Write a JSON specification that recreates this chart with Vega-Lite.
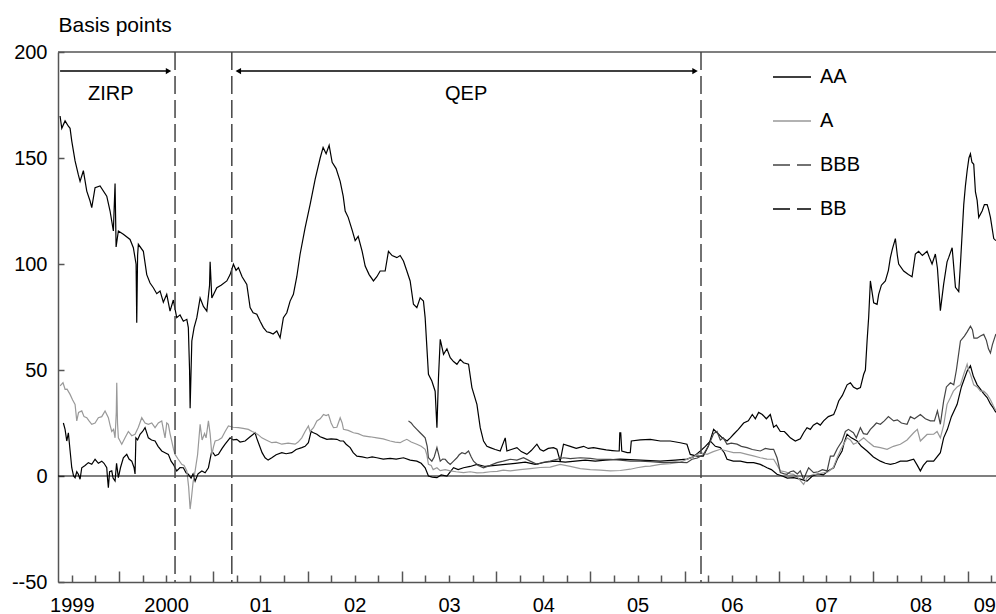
{
"$schema": "https://vega.github.io/schema/vega-lite/v6.json",
"width": 938, "height": 530,
"autosize": "none",
"padding": {"left": 58, "top": 52, "right": 0, "bottom": 32},
"config": {"font": "Liberation Sans", "view": {"stroke": null}},
"datasets": {
"d": [
{"s":"BB","t":1999.376,"v":169.8},{"s":"BB","t":1999.394,"v":164},{"s":"BB","t":1999.429,"v":167.5},{"s":"BB","t":1999.464,"v":165},{"s":"BB","t":1999.482,"v":164},{"s":"BB","t":1999.5,"v":158},{"s":"BB","t":1999.535,"v":148.6},{"s":"BB","t":1999.57,"v":142},{"s":"BB","t":1999.588,"v":139},{"s":"BB","t":1999.623,"v":144},{"s":"BB","t":1999.659,"v":134.4},{"s":"BB","t":1999.694,"v":129.7},{"s":"BB","t":1999.712,"v":126.6},{"s":"BB","t":1999.747,"v":136},{"s":"BB","t":1999.8,"v":136.8},{"s":"BB","t":1999.871,"v":132},{"s":"BB","t":1999.906,"v":125},{"s":"BB","t":1999.941,"v":115.6},{"s":"BB","t":1999.959,"v":138},{"s":"BB","t":1999.97,"v":108},{"s":"BB","t":1999.994,"v":115.6},{"s":"BB","t":2000.047,"v":114},{"s":"BB","t":2000.118,"v":111.6},{"s":"BB","t":2000.153,"v":107.7},{"s":"BB","t":2000.182,"v":99.9},{"s":"BB","t":2000.189,"v":72.3},{"s":"BB","t":2000.198,"v":104},{"s":"BB","t":2000.206,"v":109.3},{"s":"BB","t":2000.259,"v":106},{"s":"BB","t":2000.295,"v":95},{"s":"BB","t":2000.33,"v":91},{"s":"BB","t":2000.365,"v":88.8},{"s":"BB","t":2000.401,"v":86},{"s":"BB","t":2000.436,"v":87.3},{"s":"BB","t":2000.471,"v":82},{"s":"BB","t":2000.507,"v":85.7},{"s":"BB","t":2000.542,"v":77.8},{"s":"BB","t":2000.577,"v":83},{"s":"BB","t":2000.613,"v":74.7},{"s":"BB","t":2000.648,"v":76},{"s":"BB","t":2000.683,"v":73},{"s":"BB","t":2000.72,"v":73.9},{"s":"BB","t":2000.736,"v":70},{"s":"BB","t":2000.749,"v":50},{"s":"BB","t":2000.755,"v":32},{"s":"BB","t":2000.773,"v":63.7},{"s":"BB","t":2000.797,"v":70},{"s":"BB","t":2000.826,"v":74.7},{"s":"BB","t":2000.861,"v":84},{"s":"BB","t":2000.896,"v":80},{"s":"BB","t":2000.932,"v":77.8},{"s":"BB","t":2000.961,"v":90},{"s":"BB","t":2000.967,"v":101},{"s":"BB","t":2000.985,"v":84},{"s":"BB","t":2001.038,"v":88.8},{"s":"BB","t":2001.083,"v":90},{"s":"BB","t":2001.144,"v":92},{"s":"BB","t":2001.179,"v":95},{"s":"BB","t":2001.214,"v":99.9},{"s":"BB","t":2001.242,"v":97},{"s":"BB","t":2001.267,"v":98.3},{"s":"BB","t":2001.306,"v":94},{"s":"BB","t":2001.356,"v":90.4},{"s":"BB","t":2001.391,"v":79.4},{"s":"BB","t":2001.423,"v":77},{"s":"BB","t":2001.462,"v":76.3},{"s":"BB","t":2001.497,"v":73},{"s":"BB","t":2001.532,"v":70},{"s":"BB","t":2001.568,"v":68},{"s":"BB","t":2001.603,"v":67.6},{"s":"BB","t":2001.635,"v":67},{"s":"BB","t":2001.674,"v":68.4},{"s":"BB","t":2001.709,"v":65.2},{"s":"BB","t":2001.744,"v":74.7},{"s":"BB","t":2001.78,"v":77},{"s":"BB","t":2001.815,"v":82.5},{"s":"BB","t":2001.85,"v":85.7},{"s":"BB","t":2001.886,"v":94},{"s":"BB","t":2001.921,"v":104.6},{"s":"BB","t":2001.974,"v":117},{"s":"BB","t":2002.027,"v":128},{"s":"BB","t":2002.081,"v":140},{"s":"BB","t":2002.134,"v":150},{"s":"BB","t":2002.165,"v":155},{"s":"BB","t":2002.197,"v":152},{"s":"BB","t":2002.229,"v":156},{"s":"BB","t":2002.261,"v":148},{"s":"BB","t":2002.303,"v":145},{"s":"BB","t":2002.346,"v":139},{"s":"BB","t":2002.378,"v":132},{"s":"BB","t":2002.399,"v":125},{"s":"BB","t":2002.431,"v":122},{"s":"BB","t":2002.473,"v":116},{"s":"BB","t":2002.505,"v":111},{"s":"BB","t":2002.537,"v":113},{"s":"BB","t":2002.579,"v":106},{"s":"BB","t":2002.611,"v":99},{"s":"BB","t":2002.653,"v":95},{"s":"BB","t":2002.699,"v":92},{"s":"BB","t":2002.735,"v":94},{"s":"BB","t":2002.77,"v":96.7},{"s":"BB","t":2002.823,"v":96.7},{"s":"BB","t":2002.858,"v":106},{"s":"BB","t":2002.897,"v":104},{"s":"BB","t":2002.947,"v":103},{"s":"BB","t":2002.982,"v":104},{"s":"BB","t":2003.017,"v":101.4},{"s":"BB","t":2003.053,"v":96.7},{"s":"BB","t":2003.088,"v":92},{"s":"BB","t":2003.123,"v":81},{"s":"BB","t":2003.159,"v":79.4},{"s":"BB","t":2003.194,"v":84},{"s":"BB","t":2003.229,"v":82.5},{"s":"BB","t":2003.247,"v":74.7},{"s":"BB","t":2003.282,"v":48},{"s":"BB","t":2003.318,"v":44.8},{"s":"BB","t":2003.353,"v":40},{"s":"BB","t":2003.372,"v":22.8},{"s":"BB","t":2003.388,"v":46},{"s":"BB","t":2003.407,"v":64.5},{"s":"BB","t":2003.442,"v":57.4},{"s":"BB","t":2003.478,"v":60},{"s":"BB","t":2003.513,"v":55.8},{"s":"BB","t":2003.548,"v":54},{"s":"BB","t":2003.584,"v":52.7},{"s":"BB","t":2003.619,"v":55},{"s":"BB","t":2003.654,"v":53.4},{"s":"BB","t":2003.707,"v":52.7},{"s":"BB","t":2003.743,"v":41.7},{"s":"BB","t":2003.796,"v":33.8},{"s":"BB","t":2003.831,"v":22.8},{"s":"BB","t":2003.866,"v":16.5},{"s":"BB","t":2003.902,"v":14},{"s":"BB","t":2003.937,"v":13.4},{"s":"BB","t":2003.99,"v":12.5},{"s":"BB","t":2004.043,"v":11.8},{"s":"BB","t":2004.096,"v":18},{"s":"BB","t":2004.114,"v":11.8},{"s":"BB","t":2004.16,"v":12.5},{"s":"BB","t":2004.22,"v":13.4},{"s":"BB","t":2004.266,"v":11.5},{"s":"BB","t":2004.326,"v":10.2},{"s":"BB","t":2004.372,"v":12},{"s":"BB","t":2004.432,"v":15},{"s":"BB","t":2004.467,"v":12.5},{"s":"BB","t":2004.502,"v":11.8},{"s":"BB","t":2004.552,"v":13},{"s":"BB","t":2004.608,"v":13.4},{"s":"BB","t":2004.644,"v":12.6},{"s":"BB","t":2004.679,"v":7},{"s":"BB","t":2004.714,"v":15},{"s":"BB","t":2004.786,"v":14},{"s":"BB","t":2004.849,"v":13},{"s":"BB","t":2004.927,"v":14},{"s":"BB","t":2004.977,"v":13},{"s":"BB","t":2005.033,"v":13.4},{"s":"BB","t":2005.104,"v":12.8},{"s":"BB","t":2005.167,"v":12.3},{"s":"BB","t":2005.231,"v":12},{"s":"BB","t":2005.281,"v":11.8},{"s":"BB","t":2005.305,"v":11.8},{"s":"BB","t":2005.311,"v":20.4},{"s":"BB","t":2005.321,"v":20.4},{"s":"BB","t":2005.332,"v":11.8},{"s":"BB","t":2005.39,"v":11},{"s":"BB","t":2005.422,"v":11},{"s":"BB","t":2005.433,"v":16.5},{"s":"BB","t":2005.528,"v":17},{"s":"BB","t":2005.634,"v":17.3},{"s":"BB","t":2005.74,"v":16.5},{"s":"BB","t":2005.846,"v":16.5},{"s":"BB","t":2005.952,"v":15.7},{"s":"BB","t":2006.023,"v":15},{"s":"BB","t":2006.058,"v":10.2},{"s":"BB","t":2006.13,"v":9.4},{"s":"BB","t":2006.196,"v":9.4},{"s":"BB","t":2006.249,"v":14},{"s":"BB","t":2006.306,"v":22},{"s":"BB","t":2006.359,"v":19.7},{"s":"BB","t":2006.398,"v":18},{"s":"BB","t":2006.448,"v":16.5},{"s":"BB","t":2006.483,"v":18},{"s":"BB","t":2006.518,"v":19.7},{"s":"BB","t":2006.568,"v":22},{"s":"BB","t":2006.624,"v":25},{"s":"BB","t":2006.674,"v":26},{"s":"BB","t":2006.716,"v":29},{"s":"BB","t":2006.748,"v":27},{"s":"BB","t":2006.783,"v":30},{"s":"BB","t":2006.822,"v":29},{"s":"BB","t":2006.865,"v":27},{"s":"BB","t":2006.907,"v":29},{"s":"BB","t":2006.942,"v":23},{"s":"BB","t":2006.971,"v":24},{"s":"BB","t":2007.013,"v":21},{"s":"BB","t":2007.056,"v":21},{"s":"BB","t":2007.084,"v":19.7},{"s":"BB","t":2007.119,"v":18},{"s":"BB","t":2007.172,"v":16.5},{"s":"BB","t":2007.225,"v":17.5},{"s":"BB","t":2007.26,"v":20.4},{"s":"BB","t":2007.296,"v":22.8},{"s":"BB","t":2007.331,"v":22},{"s":"BB","t":2007.363,"v":24},{"s":"BB","t":2007.402,"v":25},{"s":"BB","t":2007.437,"v":24},{"s":"BB","t":2007.472,"v":26},{"s":"BB","t":2007.522,"v":28},{"s":"BB","t":2007.579,"v":29},{"s":"BB","t":2007.607,"v":32},{"s":"BB","t":2007.632,"v":35.4},{"s":"BB","t":2007.671,"v":38},{"s":"BB","t":2007.721,"v":43},{"s":"BB","t":2007.756,"v":44},{"s":"BB","t":2007.788,"v":42},{"s":"BB","t":2007.827,"v":41},{"s":"BB","t":2007.862,"v":41.7},{"s":"BB","t":2007.897,"v":48},{"s":"BB","t":2007.915,"v":50},{"s":"BB","t":2007.933,"v":63.7},{"s":"BB","t":2007.95,"v":75},{"s":"BB","t":2007.968,"v":92},{"s":"BB","t":2008.003,"v":81.7},{"s":"BB","t":2008.039,"v":81},{"s":"BB","t":2008.056,"v":85.7},{"s":"BB","t":2008.085,"v":90},{"s":"BB","t":2008.127,"v":92},{"s":"BB","t":2008.159,"v":97},{"s":"BB","t":2008.18,"v":103},{"s":"BB","t":2008.201,"v":107},{"s":"BB","t":2008.233,"v":112},{"s":"BB","t":2008.254,"v":104},{"s":"BB","t":2008.268,"v":100},{"s":"BB","t":2008.321,"v":96.7},{"s":"BB","t":2008.371,"v":95},{"s":"BB","t":2008.41,"v":94},{"s":"BB","t":2008.445,"v":104.7},{"s":"BB","t":2008.48,"v":106},{"s":"BB","t":2008.519,"v":104},{"s":"BB","t":2008.569,"v":106},{"s":"BB","t":2008.594,"v":103},{"s":"BB","t":2008.622,"v":100},{"s":"BB","t":2008.657,"v":104.7},{"s":"BB","t":2008.679,"v":98},{"s":"BB","t":2008.71,"v":78},{"s":"BB","t":2008.745,"v":90.5},{"s":"BB","t":2008.781,"v":101},{"s":"BB","t":2008.798,"v":103},{"s":"BB","t":2008.835,"v":107.7},{"s":"BB","t":2008.87,"v":89},{"s":"BB","t":2008.905,"v":87},{"s":"BB","t":2008.923,"v":100},{"s":"BB","t":2008.958,"v":128},{"s":"BB","t":2008.976,"v":137},{"s":"BB","t":2008.994,"v":144},{"s":"BB","t":2009.013,"v":150},{"s":"BB","t":2009.029,"v":152},{"s":"BB","t":2009.045,"v":148},{"s":"BB","t":2009.064,"v":147},{"s":"BB","t":2009.082,"v":134},{"s":"BB","t":2009.1,"v":130},{"s":"BB","t":2009.117,"v":122},{"s":"BB","t":2009.153,"v":125},{"s":"BB","t":2009.177,"v":128},{"s":"BB","t":2009.206,"v":128},{"s":"BB","t":2009.22,"v":126},{"s":"BB","t":2009.241,"v":122},{"s":"BB","t":2009.276,"v":112},{"s":"BB","t":2009.299,"v":111},
{"s":"AA","t":1999.411,"v":25},{"s":"AA","t":1999.429,"v":22},{"s":"AA","t":1999.447,"v":16.5},{"s":"AA","t":1999.464,"v":20.4},{"s":"AA","t":1999.482,"v":12},{"s":"AA","t":1999.5,"v":3.9},{"s":"AA","t":1999.519,"v":0},{"s":"AA","t":1999.535,"v":-0.8},{"s":"AA","t":1999.553,"v":2},{"s":"AA","t":1999.57,"v":0.8},{"s":"AA","t":1999.588,"v":-1.5},{"s":"AA","t":1999.606,"v":3.9},{"s":"AA","t":1999.641,"v":5},{"s":"AA","t":1999.676,"v":6.3},{"s":"AA","t":1999.712,"v":5.5},{"s":"AA","t":1999.747,"v":7.9},{"s":"AA","t":1999.782,"v":6},{"s":"AA","t":1999.818,"v":7},{"s":"AA","t":1999.842,"v":6},{"s":"AA","t":1999.871,"v":3.9},{"s":"AA","t":1999.879,"v":-1},{"s":"AA","t":1999.888,"v":-5.5},{"s":"AA","t":1999.901,"v":2},{"s":"AA","t":1999.924,"v":2.4},{"s":"AA","t":1999.938,"v":-1},{"s":"AA","t":1999.959,"v":-2.4},{"s":"AA","t":1999.975,"v":6},{"s":"AA","t":1999.994,"v":-0.8},{"s":"AA","t":2000.017,"v":4},{"s":"AA","t":2000.047,"v":8.6},{"s":"AA","t":2000.083,"v":10.2},{"s":"AA","t":2000.107,"v":8},{"s":"AA","t":2000.136,"v":7},{"s":"AA","t":2000.16,"v":4},{"s":"AA","t":2000.171,"v":1},{"s":"AA","t":2000.18,"v":18},{"s":"AA","t":2000.198,"v":17},{"s":"AA","t":2000.224,"v":19.7},{"s":"AA","t":2000.251,"v":21},{"s":"AA","t":2000.277,"v":22.8},{"s":"AA","t":2000.312,"v":18},{"s":"AA","t":2000.346,"v":17},{"s":"AA","t":2000.383,"v":16.5},{"s":"AA","t":2000.415,"v":14},{"s":"AA","t":2000.454,"v":11.8},{"s":"AA","t":2000.489,"v":11},{"s":"AA","t":2000.524,"v":10.2},{"s":"AA","t":2000.553,"v":7},{"s":"AA","t":2000.577,"v":5.5},{"s":"AA","t":2000.613,"v":2.4},{"s":"AA","t":2000.648,"v":4},{"s":"AA","t":2000.683,"v":3.9},{"s":"AA","t":2000.712,"v":1.5},{"s":"AA","t":2000.736,"v":0.8},{"s":"AA","t":2000.765,"v":-1},{"s":"AA","t":2000.786,"v":1},{"s":"AA","t":2000.808,"v":-2.4},{"s":"AA","t":2000.839,"v":1},{"s":"AA","t":2000.879,"v":2.4},{"s":"AA","t":2000.914,"v":1.5},{"s":"AA","t":2000.949,"v":3.9},{"s":"AA","t":2000.967,"v":8},{"s":"AA","t":2000.985,"v":11.8},{"s":"AA","t":2001.02,"v":9.5},{"s":"AA","t":2001.055,"v":10.2},{"s":"AA","t":2001.094,"v":13},{"s":"AA","t":2001.126,"v":15},{"s":"AA","t":2001.179,"v":18},{"s":"AA","t":2001.211,"v":17},{"s":"AA","t":2001.25,"v":17.3},{"s":"AA","t":2001.285,"v":16},{"s":"AA","t":2001.338,"v":16.5},{"s":"AA","t":2001.391,"v":18.5},{"s":"AA","t":2001.444,"v":20.4},{"s":"AA","t":2001.46,"v":18},{"s":"AA","t":2001.479,"v":15.7},{"s":"AA","t":2001.518,"v":11},{"s":"AA","t":2001.55,"v":8.6},{"s":"AA","t":2001.582,"v":7.5},{"s":"AA","t":2001.621,"v":8.6},{"s":"AA","t":2001.667,"v":10},{"s":"AA","t":2001.727,"v":11},{"s":"AA","t":2001.773,"v":10.5},{"s":"AA","t":2001.833,"v":11},{"s":"AA","t":2001.879,"v":12.5},{"s":"AA","t":2001.939,"v":13.4},{"s":"AA","t":2001.974,"v":14},{"s":"AA","t":2002.009,"v":15.7},{"s":"AA","t":2002.038,"v":21},{"s":"AA","t":2002.063,"v":20.4},{"s":"AA","t":2002.099,"v":19.7},{"s":"AA","t":2002.134,"v":18.5},{"s":"AA","t":2002.165,"v":18},{"s":"AA","t":2002.205,"v":17.3},{"s":"AA","t":2002.25,"v":17.5},{"s":"AA","t":2002.311,"v":17.3},{"s":"AA","t":2002.346,"v":16.5},{"s":"AA","t":2002.381,"v":16.5},{"s":"AA","t":2002.409,"v":15},{"s":"AA","t":2002.452,"v":13.4},{"s":"AA","t":2002.484,"v":11},{"s":"AA","t":2002.523,"v":9.4},{"s":"AA","t":2002.579,"v":9},{"s":"AA","t":2002.632,"v":8.5},{"s":"AA","t":2002.685,"v":9},{"s":"AA","t":2002.735,"v":8.6},{"s":"AA","t":2002.802,"v":8},{"s":"AA","t":2002.876,"v":8.3},{"s":"AA","t":2002.94,"v":8},{"s":"AA","t":2003.017,"v":8.6},{"s":"AA","t":2003.088,"v":7.5},{"s":"AA","t":2003.159,"v":7},{"s":"AA","t":2003.205,"v":6},{"s":"AA","t":2003.247,"v":3.9},{"s":"AA","t":2003.282,"v":0},{"s":"AA","t":2003.322,"v":-0.5},{"s":"AA","t":2003.372,"v":-0.8},{"s":"AA","t":2003.417,"v":0.5},{"s":"AA","t":2003.478,"v":0},{"s":"AA","t":2003.513,"v":2},{"s":"AA","t":2003.548,"v":3.9},{"s":"AA","t":2003.597,"v":3},{"s":"AA","t":2003.654,"v":3.9},{"s":"AA","t":2003.725,"v":4.5},{"s":"AA","t":2003.796,"v":5.5},{"s":"AA","t":2003.884,"v":4.5},{"s":"AA","t":2003.99,"v":5},{"s":"AA","t":2004.096,"v":5.5},{"s":"AA","t":2004.202,"v":6},{"s":"AA","t":2004.308,"v":6.5},{"s":"AA","t":2004.414,"v":5.5},{"s":"AA","t":2004.52,"v":6.5},{"s":"AA","t":2004.626,"v":7},{"s":"AA","t":2004.733,"v":6.5},{"s":"AA","t":2004.839,"v":7},{"s":"AA","t":2004.945,"v":7.5},{"s":"AA","t":2005.051,"v":7},{"s":"AA","t":2005.157,"v":7.5},{"s":"AA","t":2005.316,"v":8},{"s":"AA","t":2005.528,"v":7.5},{"s":"AA","t":2005.74,"v":7},{"s":"AA","t":2005.899,"v":7.5},{"s":"AA","t":2006.023,"v":8},{"s":"AA","t":2006.09,"v":9},{"s":"AA","t":2006.165,"v":11.8},{"s":"AA","t":2006.218,"v":14},{"s":"AA","t":2006.271,"v":16.5},{"s":"AA","t":2006.324,"v":14},{"s":"AA","t":2006.377,"v":13.4},{"s":"AA","t":2006.419,"v":11},{"s":"AA","t":2006.448,"v":7.9},{"s":"AA","t":2006.515,"v":7},{"s":"AA","t":2006.589,"v":7},{"s":"AA","t":2006.66,"v":6.3},{"s":"AA","t":2006.73,"v":6.3},{"s":"AA","t":2006.801,"v":5.5},{"s":"AA","t":2006.872,"v":3.9},{"s":"AA","t":2006.918,"v":3},{"s":"AA","t":2006.978,"v":0.8},{"s":"AA","t":2007.034,"v":0},{"s":"AA","t":2007.087,"v":-1},{"s":"AA","t":2007.154,"v":-0.8},{"s":"AA","t":2007.225,"v":-1.5},{"s":"AA","t":2007.296,"v":-2.4},{"s":"AA","t":2007.353,"v":0},{"s":"AA","t":2007.416,"v":1},{"s":"AA","t":2007.469,"v":0.5},{"s":"AA","t":2007.522,"v":2.5},{"s":"AA","t":2007.579,"v":3.9},{"s":"AA","t":2007.618,"v":8},{"s":"AA","t":2007.668,"v":11.8},{"s":"AA","t":2007.692,"v":16},{"s":"AA","t":2007.721,"v":19.7},{"s":"AA","t":2007.766,"v":18},{"s":"AA","t":2007.827,"v":16.5},{"s":"AA","t":2007.872,"v":14},{"s":"AA","t":2007.933,"v":11.8},{"s":"AA","t":2008.0,"v":9},{"s":"AA","t":2008.074,"v":7},{"s":"AA","t":2008.127,"v":6},{"s":"AA","t":2008.18,"v":5.5},{"s":"AA","t":2008.233,"v":6},{"s":"AA","t":2008.286,"v":7},{"s":"AA","t":2008.357,"v":7},{"s":"AA","t":2008.427,"v":7.9},{"s":"AA","t":2008.466,"v":5},{"s":"AA","t":2008.498,"v":2.4},{"s":"AA","t":2008.53,"v":5},{"s":"AA","t":2008.569,"v":7},{"s":"AA","t":2008.639,"v":7},{"s":"AA","t":2008.71,"v":11},{"s":"AA","t":2008.745,"v":18},{"s":"AA","t":2008.785,"v":22},{"s":"AA","t":2008.827,"v":28},{"s":"AA","t":2008.888,"v":33.8},{"s":"AA","t":2008.933,"v":42},{"s":"AA","t":2008.994,"v":49.5},{"s":"AA","t":2009.029,"v":52},{"s":"AA","t":2009.06,"v":47},{"s":"AA","t":2009.1,"v":43},{"s":"AA","t":2009.135,"v":41},{"s":"AA","t":2009.167,"v":39},{"s":"AA","t":2009.206,"v":37},{"s":"AA","t":2009.241,"v":34},{"s":"AA","t":2009.273,"v":32},{"s":"AA","t":2009.299,"v":30},
{"s":"A","t":1999.376,"v":42.5},{"s":"A","t":1999.407,"v":44},{"s":"A","t":1999.429,"v":40.9},{"s":"A","t":1999.45,"v":41},{"s":"A","t":1999.482,"v":38.5},{"s":"A","t":1999.508,"v":36},{"s":"A","t":1999.535,"v":33.8},{"s":"A","t":1999.553,"v":26},{"s":"A","t":1999.572,"v":30},{"s":"A","t":1999.606,"v":30.7},{"s":"A","t":1999.63,"v":28},{"s":"A","t":1999.659,"v":27.5},{"s":"A","t":1999.683,"v":26},{"s":"A","t":1999.712,"v":24.4},{"s":"A","t":1999.747,"v":25},{"s":"A","t":1999.782,"v":27.5},{"s":"A","t":1999.818,"v":28},{"s":"A","t":1999.853,"v":30.7},{"s":"A","t":1999.888,"v":27.5},{"s":"A","t":1999.906,"v":24},{"s":"A","t":1999.924,"v":21},{"s":"A","t":1999.943,"v":22},{"s":"A","t":1999.959,"v":18},{"s":"A","t":1999.972,"v":30},{"s":"A","t":1999.977,"v":44},{"s":"A","t":1999.985,"v":25},{"s":"A","t":1999.994,"v":18},{"s":"A","t":2000.03,"v":15},{"s":"A","t":2000.065,"v":18},{"s":"A","t":2000.1,"v":21},{"s":"A","t":2000.136,"v":19},{"s":"A","t":2000.171,"v":19.7},{"s":"A","t":2000.206,"v":23},{"s":"A","t":2000.242,"v":27.5},{"s":"A","t":2000.277,"v":25},{"s":"A","t":2000.312,"v":24.4},{"s":"A","t":2000.348,"v":25},{"s":"A","t":2000.383,"v":22.8},{"s":"A","t":2000.418,"v":25},{"s":"A","t":2000.454,"v":26},{"s":"A","t":2000.471,"v":22},{"s":"A","t":2000.489,"v":18},{"s":"A","t":2000.507,"v":25},{"s":"A","t":2000.524,"v":24.4},{"s":"A","t":2000.542,"v":20},{"s":"A","t":2000.56,"v":16.5},{"s":"A","t":2000.577,"v":13},{"s":"A","t":2000.595,"v":10.2},{"s":"A","t":2000.627,"v":8},{"s":"A","t":2000.666,"v":5.5},{"s":"A","t":2000.691,"v":5},{"s":"A","t":2000.72,"v":2.4},{"s":"A","t":2000.739,"v":-5},{"s":"A","t":2000.755,"v":-15.6},{"s":"A","t":2000.77,"v":-10},{"s":"A","t":2000.786,"v":-3},{"s":"A","t":2000.808,"v":2.4},{"s":"A","t":2000.834,"v":10},{"s":"A","t":2000.861,"v":24.4},{"s":"A","t":2000.882,"v":17},{"s":"A","t":2000.908,"v":20},{"s":"A","t":2000.924,"v":18},{"s":"A","t":2000.949,"v":26},{"s":"A","t":2000.967,"v":20},{"s":"A","t":2000.985,"v":10.2},{"s":"A","t":2001.004,"v":14},{"s":"A","t":2001.02,"v":16.5},{"s":"A","t":2001.055,"v":17},{"s":"A","t":2001.091,"v":18},{"s":"A","t":2001.126,"v":21},{"s":"A","t":2001.161,"v":23.6},{"s":"A","t":2001.211,"v":23},{"s":"A","t":2001.267,"v":22.8},{"s":"A","t":2001.317,"v":22.5},{"s":"A","t":2001.373,"v":22},{"s":"A","t":2001.412,"v":21},{"s":"A","t":2001.444,"v":20.4},{"s":"A","t":2001.476,"v":19.5},{"s":"A","t":2001.515,"v":18},{"s":"A","t":2001.561,"v":17},{"s":"A","t":2001.621,"v":15.7},{"s":"A","t":2001.667,"v":16},{"s":"A","t":2001.727,"v":15},{"s":"A","t":2001.794,"v":15.5},{"s":"A","t":2001.868,"v":15},{"s":"A","t":2001.9,"v":16},{"s":"A","t":2001.939,"v":18},{"s":"A","t":2001.974,"v":21},{"s":"A","t":2002.009,"v":23.6},{"s":"A","t":2002.027,"v":21},{"s":"A","t":2002.063,"v":22.8},{"s":"A","t":2002.099,"v":26},{"s":"A","t":2002.134,"v":27},{"s":"A","t":2002.169,"v":29},{"s":"A","t":2002.197,"v":28.5},{"s":"A","t":2002.222,"v":29},{"s":"A","t":2002.25,"v":25},{"s":"A","t":2002.275,"v":22.8},{"s":"A","t":2002.311,"v":23},{"s":"A","t":2002.346,"v":27.5},{"s":"A","t":2002.367,"v":25},{"s":"A","t":2002.381,"v":22},{"s":"A","t":2002.431,"v":21.5},{"s":"A","t":2002.487,"v":20.4},{"s":"A","t":2002.537,"v":20},{"s":"A","t":2002.593,"v":18.9},{"s":"A","t":2002.664,"v":18.5},{"s":"A","t":2002.735,"v":18},{"s":"A","t":2002.802,"v":17.5},{"s":"A","t":2002.876,"v":16.5},{"s":"A","t":2002.929,"v":16},{"s":"A","t":2002.982,"v":15.7},{"s":"A","t":2003.014,"v":16.5},{"s":"A","t":2003.053,"v":17.3},{"s":"A","t":2003.099,"v":16},{"s":"A","t":2003.159,"v":15},{"s":"A","t":2003.205,"v":14},{"s":"A","t":2003.247,"v":12.6},{"s":"A","t":2003.265,"v":10},{"s":"A","t":2003.282,"v":5.5},{"s":"A","t":2003.311,"v":5},{"s":"A","t":2003.332,"v":3},{"s":"A","t":2003.372,"v":3.9},{"s":"A","t":2003.407,"v":2.5},{"s":"A","t":2003.46,"v":3},{"s":"A","t":2003.513,"v":2.4},{"s":"A","t":2003.576,"v":2},{"s":"A","t":2003.654,"v":1.6},{"s":"A","t":2003.725,"v":2},{"s":"A","t":2003.796,"v":1.5},{"s":"A","t":2003.866,"v":1.6},{"s":"A","t":2003.937,"v":2},{"s":"A","t":2004.011,"v":2.2},{"s":"A","t":2004.075,"v":2.8},{"s":"A","t":2004.149,"v":2.4},{"s":"A","t":2004.255,"v":3},{"s":"A","t":2004.361,"v":3.5},{"s":"A","t":2004.467,"v":4},{"s":"A","t":2004.573,"v":4.2},{"s":"A","t":2004.679,"v":5.5},{"s":"A","t":2004.786,"v":4.5},{"s":"A","t":2004.892,"v":3.5},{"s":"A","t":2004.998,"v":3},{"s":"A","t":2005.104,"v":2.8},{"s":"A","t":2005.21,"v":2.4},{"s":"A","t":2005.316,"v":2.6},{"s":"A","t":2005.422,"v":3.2},{"s":"A","t":2005.493,"v":3.9},{"s":"A","t":2005.581,"v":4.5},{"s":"A","t":2005.634,"v":4.7},{"s":"A","t":2005.74,"v":5.5},{"s":"A","t":2005.846,"v":5.8},{"s":"A","t":2005.952,"v":6.5},{"s":"A","t":2006.023,"v":7.9},{"s":"A","t":2006.09,"v":9},{"s":"A","t":2006.165,"v":11},{"s":"A","t":2006.236,"v":10.2},{"s":"A","t":2006.302,"v":11.5},{"s":"A","t":2006.377,"v":12.6},{"s":"A","t":2006.448,"v":11.8},{"s":"A","t":2006.515,"v":11},{"s":"A","t":2006.589,"v":11},{"s":"A","t":2006.66,"v":10.2},{"s":"A","t":2006.727,"v":9.5},{"s":"A","t":2006.801,"v":8.6},{"s":"A","t":2006.872,"v":8},{"s":"A","t":2006.942,"v":7.9},{"s":"A","t":2006.981,"v":5},{"s":"A","t":2007.013,"v":2.4},{"s":"A","t":2007.066,"v":2},{"s":"A","t":2007.119,"v":1},{"s":"A","t":2007.154,"v":0.8},{"s":"A","t":2007.204,"v":-1},{"s":"A","t":2007.26,"v":-4},{"s":"A","t":2007.296,"v":-0.8},{"s":"A","t":2007.353,"v":0.5},{"s":"A","t":2007.416,"v":1},{"s":"A","t":2007.469,"v":1.5},{"s":"A","t":2007.522,"v":2},{"s":"A","t":2007.575,"v":4},{"s":"A","t":2007.615,"v":8.6},{"s":"A","t":2007.66,"v":13},{"s":"A","t":2007.721,"v":18},{"s":"A","t":2007.756,"v":17},{"s":"A","t":2007.788,"v":15},{"s":"A","t":2007.841,"v":16},{"s":"A","t":2007.897,"v":18},{"s":"A","t":2007.947,"v":16},{"s":"A","t":2008.003,"v":14},{"s":"A","t":2008.074,"v":13.4},{"s":"A","t":2008.145,"v":12.6},{"s":"A","t":2008.212,"v":14},{"s":"A","t":2008.286,"v":15},{"s":"A","t":2008.357,"v":17},{"s":"A","t":2008.427,"v":20.4},{"s":"A","t":2008.466,"v":22},{"s":"A","t":2008.498,"v":16.5},{"s":"A","t":2008.569,"v":19.6},{"s":"A","t":2008.639,"v":19.7},{"s":"A","t":2008.675,"v":21},{"s":"A","t":2008.71,"v":18},{"s":"A","t":2008.745,"v":24},{"s":"A","t":2008.781,"v":33.8},{"s":"A","t":2008.817,"v":37},{"s":"A","t":2008.848,"v":40},{"s":"A","t":2008.888,"v":42},{"s":"A","t":2008.923,"v":43},{"s":"A","t":2008.958,"v":48},{"s":"A","t":2008.994,"v":52.7},{"s":"A","t":2009.008,"v":50},{"s":"A","t":2009.029,"v":48},{"s":"A","t":2009.064,"v":43},{"s":"A","t":2009.1,"v":42},{"s":"A","t":2009.135,"v":40},{"s":"A","t":2009.17,"v":40},{"s":"A","t":2009.206,"v":38.5},{"s":"A","t":2009.241,"v":36},{"s":"A","t":2009.273,"v":33},{"s":"A","t":2009.299,"v":30.7},
{"s":"BBB","t":2003.07,"v":26},{"s":"BBB","t":2003.099,"v":25},{"s":"BBB","t":2003.123,"v":23.6},{"s":"BBB","t":2003.159,"v":22},{"s":"BBB","t":2003.194,"v":20.4},{"s":"BBB","t":2003.226,"v":19},{"s":"BBB","t":2003.247,"v":18},{"s":"BBB","t":2003.269,"v":14},{"s":"BBB","t":2003.282,"v":8.6},{"s":"BBB","t":2003.318,"v":7},{"s":"BBB","t":2003.343,"v":9},{"s":"BBB","t":2003.372,"v":13.4},{"s":"BBB","t":2003.391,"v":10},{"s":"BBB","t":2003.407,"v":7},{"s":"BBB","t":2003.433,"v":8},{"s":"BBB","t":2003.46,"v":7.9},{"s":"BBB","t":2003.486,"v":6.5},{"s":"BBB","t":2003.513,"v":5.5},{"s":"BBB","t":2003.548,"v":7},{"s":"BBB","t":2003.584,"v":8.6},{"s":"BBB","t":2003.608,"v":10},{"s":"BBB","t":2003.637,"v":11},{"s":"BBB","t":2003.672,"v":10.5},{"s":"BBB","t":2003.707,"v":11.8},{"s":"BBB","t":2003.736,"v":9},{"s":"BBB","t":2003.76,"v":7},{"s":"BBB","t":2003.81,"v":5},{"s":"BBB","t":2003.866,"v":3.9},{"s":"BBB","t":2003.937,"v":5},{"s":"BBB","t":2004.008,"v":6.3},{"s":"BBB","t":2004.075,"v":7},{"s":"BBB","t":2004.149,"v":7.9},{"s":"BBB","t":2004.22,"v":7.5},{"s":"BBB","t":2004.29,"v":8.6},{"s":"BBB","t":2004.361,"v":7},{"s":"BBB","t":2004.432,"v":5.5},{"s":"BBB","t":2004.499,"v":6.5},{"s":"BBB","t":2004.573,"v":7},{"s":"BBB","t":2004.644,"v":7.9},{"s":"BBB","t":2004.714,"v":8.6},{"s":"BBB","t":2004.786,"v":8.2},{"s":"BBB","t":2004.892,"v":8.6},{"s":"BBB","t":2004.998,"v":8.3},{"s":"BBB","t":2005.069,"v":7.9},{"s":"BBB","t":2005.21,"v":7.8},{"s":"BBB","t":2005.316,"v":7.5},{"s":"BBB","t":2005.422,"v":7},{"s":"BBB","t":2005.528,"v":7},{"s":"BBB","t":2005.634,"v":6.8},{"s":"BBB","t":2005.775,"v":6.3},{"s":"BBB","t":2005.899,"v":6.5},{"s":"BBB","t":2006.023,"v":6.3},{"s":"BBB","t":2006.077,"v":7.9},{"s":"BBB","t":2006.133,"v":8.5},{"s":"BBB","t":2006.196,"v":10},{"s":"BBB","t":2006.249,"v":14},{"s":"BBB","t":2006.306,"v":20},{"s":"BBB","t":2006.342,"v":21},{"s":"BBB","t":2006.377,"v":17},{"s":"BBB","t":2006.409,"v":18},{"s":"BBB","t":2006.448,"v":15},{"s":"BBB","t":2006.493,"v":15.5},{"s":"BBB","t":2006.554,"v":15},{"s":"BBB","t":2006.6,"v":14},{"s":"BBB","t":2006.66,"v":13.4},{"s":"BBB","t":2006.716,"v":12.5},{"s":"BBB","t":2006.801,"v":11.8},{"s":"BBB","t":2006.854,"v":13},{"s":"BBB","t":2006.907,"v":12.6},{"s":"BBB","t":2006.942,"v":12.6},{"s":"BBB","t":2006.978,"v":8.6},{"s":"BBB","t":2006.995,"v":5.5},{"s":"BBB","t":2007.013,"v":1.6},{"s":"BBB","t":2007.056,"v":1},{"s":"BBB","t":2007.084,"v":0.8},{"s":"BBB","t":2007.119,"v":2},{"s":"BBB","t":2007.154,"v":2.4},{"s":"BBB","t":2007.194,"v":1},{"s":"BBB","t":2007.225,"v":2.4},{"s":"BBB","t":2007.26,"v":-1.6},{"s":"BBB","t":2007.289,"v":1.5},{"s":"BBB","t":2007.313,"v":3.9},{"s":"BBB","t":2007.366,"v":1.6},{"s":"BBB","t":2007.416,"v":2},{"s":"BBB","t":2007.459,"v":3},{"s":"BBB","t":2007.509,"v":2.4},{"s":"BBB","t":2007.544,"v":9.4},{"s":"BBB","t":2007.579,"v":9.4},{"s":"BBB","t":2007.618,"v":13},{"s":"BBB","t":2007.668,"v":16.5},{"s":"BBB","t":2007.703,"v":21},{"s":"BBB","t":2007.735,"v":22},{"s":"BBB","t":2007.788,"v":20.4},{"s":"BBB","t":2007.819,"v":18},{"s":"BBB","t":2007.862,"v":22.8},{"s":"BBB","t":2007.894,"v":20},{"s":"BBB","t":2007.933,"v":19.7},{"s":"BBB","t":2007.968,"v":22},{"s":"BBB","t":2008.003,"v":23.6},{"s":"BBB","t":2008.032,"v":25},{"s":"BBB","t":2008.074,"v":24.4},{"s":"BBB","t":2008.116,"v":26},{"s":"BBB","t":2008.159,"v":28},{"s":"BBB","t":2008.215,"v":26},{"s":"BBB","t":2008.254,"v":26.5},{"s":"BBB","t":2008.297,"v":25},{"s":"BBB","t":2008.357,"v":24.4},{"s":"BBB","t":2008.392,"v":28},{"s":"BBB","t":2008.435,"v":27},{"s":"BBB","t":2008.498,"v":29},{"s":"BBB","t":2008.551,"v":27},{"s":"BBB","t":2008.604,"v":26},{"s":"BBB","t":2008.647,"v":26},{"s":"BBB","t":2008.679,"v":30.7},{"s":"BBB","t":2008.71,"v":24.4},{"s":"BBB","t":2008.745,"v":35.4},{"s":"BBB","t":2008.774,"v":42},{"s":"BBB","t":2008.817,"v":44},{"s":"BBB","t":2008.852,"v":43},{"s":"BBB","t":2008.88,"v":50},{"s":"BBB","t":2008.923,"v":63.7},{"s":"BBB","t":2008.965,"v":66},{"s":"BBB","t":2008.994,"v":68},{"s":"BBB","t":2009.029,"v":70.7},{"s":"BBB","t":2009.05,"v":69},{"s":"BBB","t":2009.066,"v":65},{"s":"BBB","t":2009.1,"v":65},{"s":"BBB","t":2009.135,"v":66},{"s":"BBB","t":2009.17,"v":66.8},{"s":"BBB","t":2009.198,"v":64},{"s":"BBB","t":2009.22,"v":60},{"s":"BBB","t":2009.241,"v":58},{"s":"BBB","t":2009.262,"v":62},{"s":"BBB","t":2009.299,"v":67}
]
},
"layer": [
{
"data": {"name": "d"},
"mark": {"type": "line", "strokeWidth": 1.2, "clip": true},
"encoding": {
"x": {"field": "t", "type": "quantitative", "scale": {"domain": [1999.354, 2009.3], "nice": false, "zero": false},
"axis": {"title": null, "grid": false, "tickCount": 100,
"values": [1999.5,1999.75,2000,2000.25,2000.5,2000.75,2001,2001.25,2001.5,2001.75,2002,2002.25,2002.5,2002.75,2003,2003.25,2003.5,2003.75,2004,2004.25,2004.5,2004.75,2005,2005.25,2005.5,2005.75,2006,2006.25,2006.5,2006.75,2007,2007.25,2007.5,2007.75,2008,2008.25,2008.5,2008.75,2009,2009.25],
"labelExpr": "datum.value > 2009.1 ? '09' : (datum.value % 1 == 0.5 ? (datum.value < 2001 ? toString(floor(datum.value)) : substring(toString(floor(datum.value)), 2)) : '')",
"labelOffset": {"condition": {"test": "datum.value > 2009.1", "value": -7}, "value": 0},
"tickSize": {"condition": {"test": "datum.value % 1 == 0", "value": -11}, "value": -7},
"tickColor": "#555555", "tickWidth": 1.5, "domainColor": "#555555", "domainWidth": 1.5,
"labelFontSize": 20, "labelFont": "Liberation Sans", "labelColor": "#000000", "labelPadding": 20, "labelFlush": false, "labelOverlap": false, "labelBound": false, "labelAngle": 0}},
"y": {"field": "v", "type": "quantitative", "scale": {"domain": [-50, 200], "nice": false},
"axis": {"title": "Basis points", "titleAngle": 0, "titleAlign": "left", "titleBaseline": "alphabetic", "titleX": 0, "titleY": -21, "titleFontSize": 21, "titleFontWeight": "normal", "titleFont": "Liberation Sans", "titleColor": "#000000",
"grid": false, "values": [-50, 0, 50, 100, 150, 200], "tickCount": 20,
"labelExpr": "datum.value == -50 ? '--50' : datum.label",
"tickSize": -6, "tickColor": "#555555", "tickWidth": 1.5, "domainColor": "#555555", "domainWidth": 1.5,
"labelFontSize": 20, "labelFont": "Liberation Sans", "labelColor": "#000000", "labelPadding": 17}},
"color": {"field": "s", "type": "nominal",
"scale": {"domain": ["AA", "A", "BBB", "BB"], "range": ["#000000", "#999999", "#444444", "#000000"]},
"legend": {"orient": "none", "legendX": 714, "legendY": 5, "title": null, "symbolType": "stroke", "symbolSize": 1444, "symbolStrokeWidth": 1.5, "labelFontSize": 20, "labelFont": "Liberation Sans", "labelColor": "#000000", "labelOffset": 8, "rowPadding": 14, "padding": 0,
"encode": {"symbols": {"update": {"strokeDash": {"signal": "datum.value == 'BBB' || datum.value == 'BB' ? [17, 7] : [1, 0]"}}}}}}
}
},
{
"data": {"values": [{"yv": 200}]},
"mark": {"type": "rule", "color": "#555555", "strokeWidth": 1.5},
"encoding": {"y": {"field": "yv", "type": "quantitative"}}
},
{
"data": {"values": [{"yv": 0}]},
"mark": {"type": "rule", "color": "#000000", "strokeWidth": 1.2},
"encoding": {"y": {"field": "yv", "type": "quantitative"}}
},
{
"data": {"values": [{"t": 2000.595}, {"t": 2001.197}, {"t": 2006.172}]},
"mark": {"type": "rule", "color": "#444444", "strokeWidth": 1.5, "strokeDash": [18, 6]},
"encoding": {"x": {"field": "t", "type": "quantitative"}}
},
{
"data": {"values": [{"t1": 1999.376, "t2": 2000.526, "y": 191}, {"t1": 2001.266, "t2": 2006.109, "y": 191}]},
"mark": {"type": "rule", "color": "#000000", "strokeWidth": 1.5},
"encoding": {
"x": {"field": "t1", "type": "quantitative"},
"x2": {"field": "t2"},
"y": {"field": "y", "type": "quantitative"}}
},
{
"data": {"values": [{"t": 2000.526, "y": 191, "dir": "right"}, {"t": 2001.266, "y": 191, "dir": "left"}, {"t": 2006.109, "y": 191, "dir": "right"}]},
"mark": {"type": "point", "filled": true, "color": "#000000", "size": 40, "opacity": 1},
"encoding": {
"x": {"field": "t", "type": "quantitative"},
"y": {"field": "y", "type": "quantitative"},
"shape": {"field": "dir", "type": "nominal", "scale": {"domain": ["right", "left"], "range": ["triangle-right", "triangle-left"]}, "legend": null}}
},
{
"data": {"values": [{"label": "ZIRP", "t": 1999.914, "y": 180}, {"label": "QEP", "t": 2003.682, "y": 180}]},
"mark": {"type": "text", "font": "Liberation Sans", "fontSize": 20, "align": "center", "baseline": "middle", "color": "#000000"},
"encoding": {
"x": {"field": "t", "type": "quantitative"},
"y": {"field": "y", "type": "quantitative"},
"text": {"field": "label"}}
}
]
}
